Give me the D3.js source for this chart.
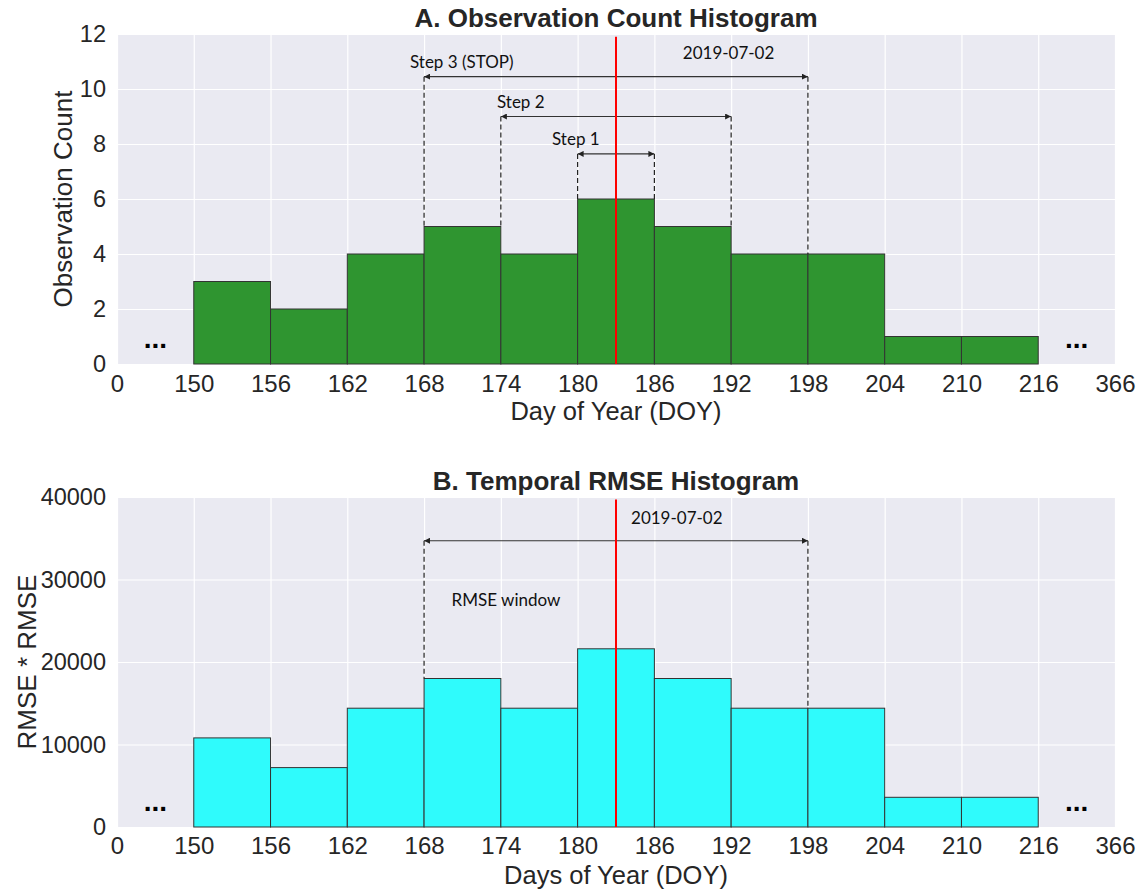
<!DOCTYPE html>
<html>
<head>
<meta charset="utf-8">
<script src="https://cdn.jsdelivr.net/npm/d3@7"></script>
<style>
  html, body { margin: 0; padding: 0; background: #fff; }
  svg { display: block; }
</style>
</head>
<body>
<svg id="chart" width="1140" height="890"></svg>
<script>
// ---------------- data ----------------
const xTickValues = [0, 150, 156, 162, 168, 174, 180, 186, 192, 198, 204, 210, 216, 366];
const binStarts = [150, 156, 162, 168, 174, 180, 186, 192, 198, 204, 210];
const binWidth = 6;
const observationCounts = [3, 2, 4, 5, 4, 6, 5, 4, 4, 1, 1];
const rmseValues = [10800, 7200, 14400, 18000, 14400, 21600, 18000, 14400, 14400, 3600, 3600];
const countTicks = [0, 2, 4, 6, 8, 10, 12];
const rmseTicks = [0, 10000, 20000, 30000, 40000];
const targetDoy = 183;
const targetLabel = "2019-07-02";

// annotation steps (panel A)
const stepLabels = ["Step 1", "Step 2", "Step 3 (STOP)"];
const stepStarts = [180, 174, 168];
const stepEnds = [186, 192, 198];
const stepLevels = [7.64, 9.0, 10.45];
const stepLabelX = [178.0, 173.7, 166.9];

// annotation window (panel B)
const windowLabel = "RMSE window";
const windowStart = 168;
const windowEnd = 198;
const windowLevel = 34700;

// ---------------- layout ----------------
const svg = d3.select("#chart");
const left = 117, right = 1115;
const step = (right - left) / (xTickValues.length - 1);
const x = d3.scaleLinear()
  .domain(xTickValues)
  .range(xTickValues.map((d, i) => left + i * step));

const BG = "#EAEAF2";
const TXT = "#262626";
const FONT = "'Liberation Sans', Arial, Helvetica, sans-serif";
const ANNO_FONT = "Lato, 'Open Sans', sans-serif";

// arrow markers
const defs = svg.append("defs");
function marker(id, orient) {
  defs.append("marker")
    .attr("id", id)
    .attr("viewBox", "0 0 10 10")
    .attr("refX", 10).attr("refY", 5)
    .attr("markerWidth", 6).attr("markerHeight", 6)
    .attr("markerUnits", "userSpaceOnUse")
    .attr("orient", orient)
    .append("path")
    .attr("d", "M0,0 L10,5 L0,10 z")
    .attr("fill", "#222");
}
marker("arrowEnd", "auto");
marker("arrowStart", "auto-start-reverse");

function drawPanel(cfg) {
  const g = svg.append("g");
  const y = d3.scaleLinear().domain(cfg.yDomain).range([cfg.bottom, cfg.top]);

  // background
  g.append("rect")
    .attr("x", left).attr("y", cfg.top)
    .attr("width", right - left).attr("height", cfg.bottom - cfg.top)
    .attr("fill", BG);

  // gridlines
  g.append("g")
    .attr("transform", `translate(0,${cfg.bottom})`)
    .call(d3.axisBottom(x).tickValues(xTickValues).tickSize(-(cfg.bottom - cfg.top)).tickFormat(""))
    .call(a => a.select(".domain").remove())
    .call(a => a.selectAll("line").attr("stroke", "#fff").attr("stroke-width", 1.2));
  g.append("g")
    .attr("transform", `translate(${left},0)`)
    .call(d3.axisLeft(y).tickValues(cfg.yTicks).tickSize(-(right - left)).tickFormat(""))
    .call(a => a.select(".domain").remove())
    .call(a => a.selectAll("line").attr("stroke", "#fff").attr("stroke-width", 1.2));

  // bars
  g.append("g").selectAll("rect")
    .data(binStarts.map((s, i) => ({ s, v: cfg.values[i] })))
    .join("rect")
    .attr("x", d => x(d.s))
    .attr("width", d => x(d.s + binWidth) - x(d.s))
    .attr("y", d => y(d.v))
    .attr("height", d => y(0) - y(d.v))
    .attr("fill", cfg.color)
    .attr("stroke", "#333")
    .attr("stroke-width", 1);

  // x axis ticks
  g.append("g")
    .attr("transform", `translate(0,${cfg.bottom})`)
    .call(d3.axisBottom(x).tickValues(xTickValues).tickSize(0).tickPadding(cfg.xPad).tickFormat(d3.format("d")))
    .call(a => a.select(".domain").remove())
    .call(a => a.selectAll("text").attr("fill", TXT).style("font-family", FONT).style("font-size", "24px"));
  // y axis ticks
  g.append("g")
    .attr("transform", `translate(${left},0)`)
    .call(d3.axisLeft(y).tickValues(cfg.yTicks).tickSize(0).tickPadding(11).tickFormat(d3.format("d")))
    .call(a => a.select(".domain").remove())
    .call(a => a.selectAll("text").attr("fill", TXT).style("font-family", FONT).style("font-size", "23.5px"));

  // titles
  g.append("text")
    .attr("x", (left + right) / 2).attr("y", cfg.titleY)
    .attr("text-anchor", "middle")
    .attr("fill", TXT).style("font-family", FONT).style("font-size", "26px").style("font-weight", "bold")
    .text(cfg.title);
  g.append("text")
    .attr("x", (left + right) / 2).attr("y", cfg.xLabelY)
    .attr("text-anchor", "middle")
    .attr("fill", TXT).style("font-family", FONT).style("font-size", "25.5px")
    .text(cfg.xLabel);
  g.append("text")
    .attr("transform", `translate(${cfg.yLabelX},${(cfg.top + cfg.bottom) / 2}) rotate(-90)`)
    .attr("text-anchor", "middle")
    .attr("fill", TXT).style("font-family", FONT).style("font-size", "26px")
    .text(cfg.yLabel);

  // ellipsis markers (gaps in the day axis)
  const ellX = [left + step * 0.5, left + step * (xTickValues.length - 1.5)];
  ellX.forEach(px => {
    g.append("text")
      .attr("x", px).attr("y", y(cfg.ellipsisLevel) + 5)
      .attr("text-anchor", "middle")
      .attr("fill", "#000").style("font-family", FONT).style("font-size", "28px").style("font-weight", "bold")
      .text("...");
  });

  return { g, y };
}

// helper: height of bars adjacent to an edge
function edgeHeight(values, edge) {
  let h = 0;
  binStarts.forEach((s, i) => {
    if (s === edge || s + binWidth === edge) h = Math.max(h, values[i]);
  });
  return h;
}

function drawRange(g, y, values, a, b, level) {
  const dashed = g.append("g")
    .attr("stroke", "#222").attr("stroke-width", 1.2).attr("stroke-dasharray", "5,3");
  [a, b].forEach(e => {
    dashed.append("line")
      .attr("x1", x(e)).attr("x2", x(e))
      .attr("y1", y(level)).attr("y2", y(edgeHeight(values, e)));
  });
  g.append("line")
    .attr("x1", x(a)).attr("x2", x(b))
    .attr("y1", y(level)).attr("y2", y(level))
    .attr("stroke", "#333").attr("stroke-width", 1.2)
    .attr("marker-start", "url(#arrowStart)")
    .attr("marker-end", "url(#arrowEnd)");
}

function annoText(g, px, py, txt, anchor) {
  g.append("text")
    .attr("x", px).attr("y", py)
    .attr("text-anchor", anchor || "start")
    .attr("fill", "#111").style("font-family", ANNO_FONT).style("font-size", "17px")
    .text(txt);
}

// ---------------- Panel A ----------------
const A = drawPanel({
  top: 34, bottom: 364, yDomain: [0, 12], yTicks: countTicks,
  values: observationCounts, color: "#2F9530",
  title: "A. Observation Count Histogram",
  xLabel: "Day of Year (DOY)", yLabel: "Observation Count",
  titleY: 27, xLabelY: 420, yLabelX: 72, xPad: 11, ellipsisLevel: 0.75
});
stepLabels.forEach((lab, i) => {
  drawRange(A.g, A.y, observationCounts, stepStarts[i], stepEnds[i], stepLevels[i]);
  annoText(A.g, x(stepLabelX[i]), A.y(stepLevels[i]) - 9, lab);
});
annoText(A.g, x(191.8), A.y(11.1), targetLabel, "middle");
A.g.append("line")
  .attr("x1", x(targetDoy)).attr("x2", x(targetDoy))
  .attr("y1", A.y(11.9)).attr("y2", A.y(0))
  .attr("stroke", "#FF0000").attr("stroke-width", 2);

// ---------------- Panel B ----------------
const B = drawPanel({
  top: 497, bottom: 827, yDomain: [0, 40000], yTicks: rmseTicks,
  values: rmseValues, color: "#2FFBFC",
  title: "B. Temporal RMSE Histogram",
  xLabel: "Days of Year (DOY)", yLabel: "RMSE * RMSE",
  titleY: 490, xLabelY: 884, yLabelX: 36, xPad: 10, ellipsisLevel: 2500
});
drawRange(B.g, B.y, rmseValues, windowStart, windowEnd, windowLevel);
annoText(B.g, x(187.75), B.y(36700), targetLabel, "middle");
annoText(B.g, x(174.4), B.y(26800), windowLabel, "middle");
B.g.append("line")
  .attr("x1", x(targetDoy)).attr("x2", x(targetDoy))
  .attr("y1", B.y(39700)).attr("y2", B.y(0))
  .attr("stroke", "#FF0000").attr("stroke-width", 2);
</script>
</body>
</html>
